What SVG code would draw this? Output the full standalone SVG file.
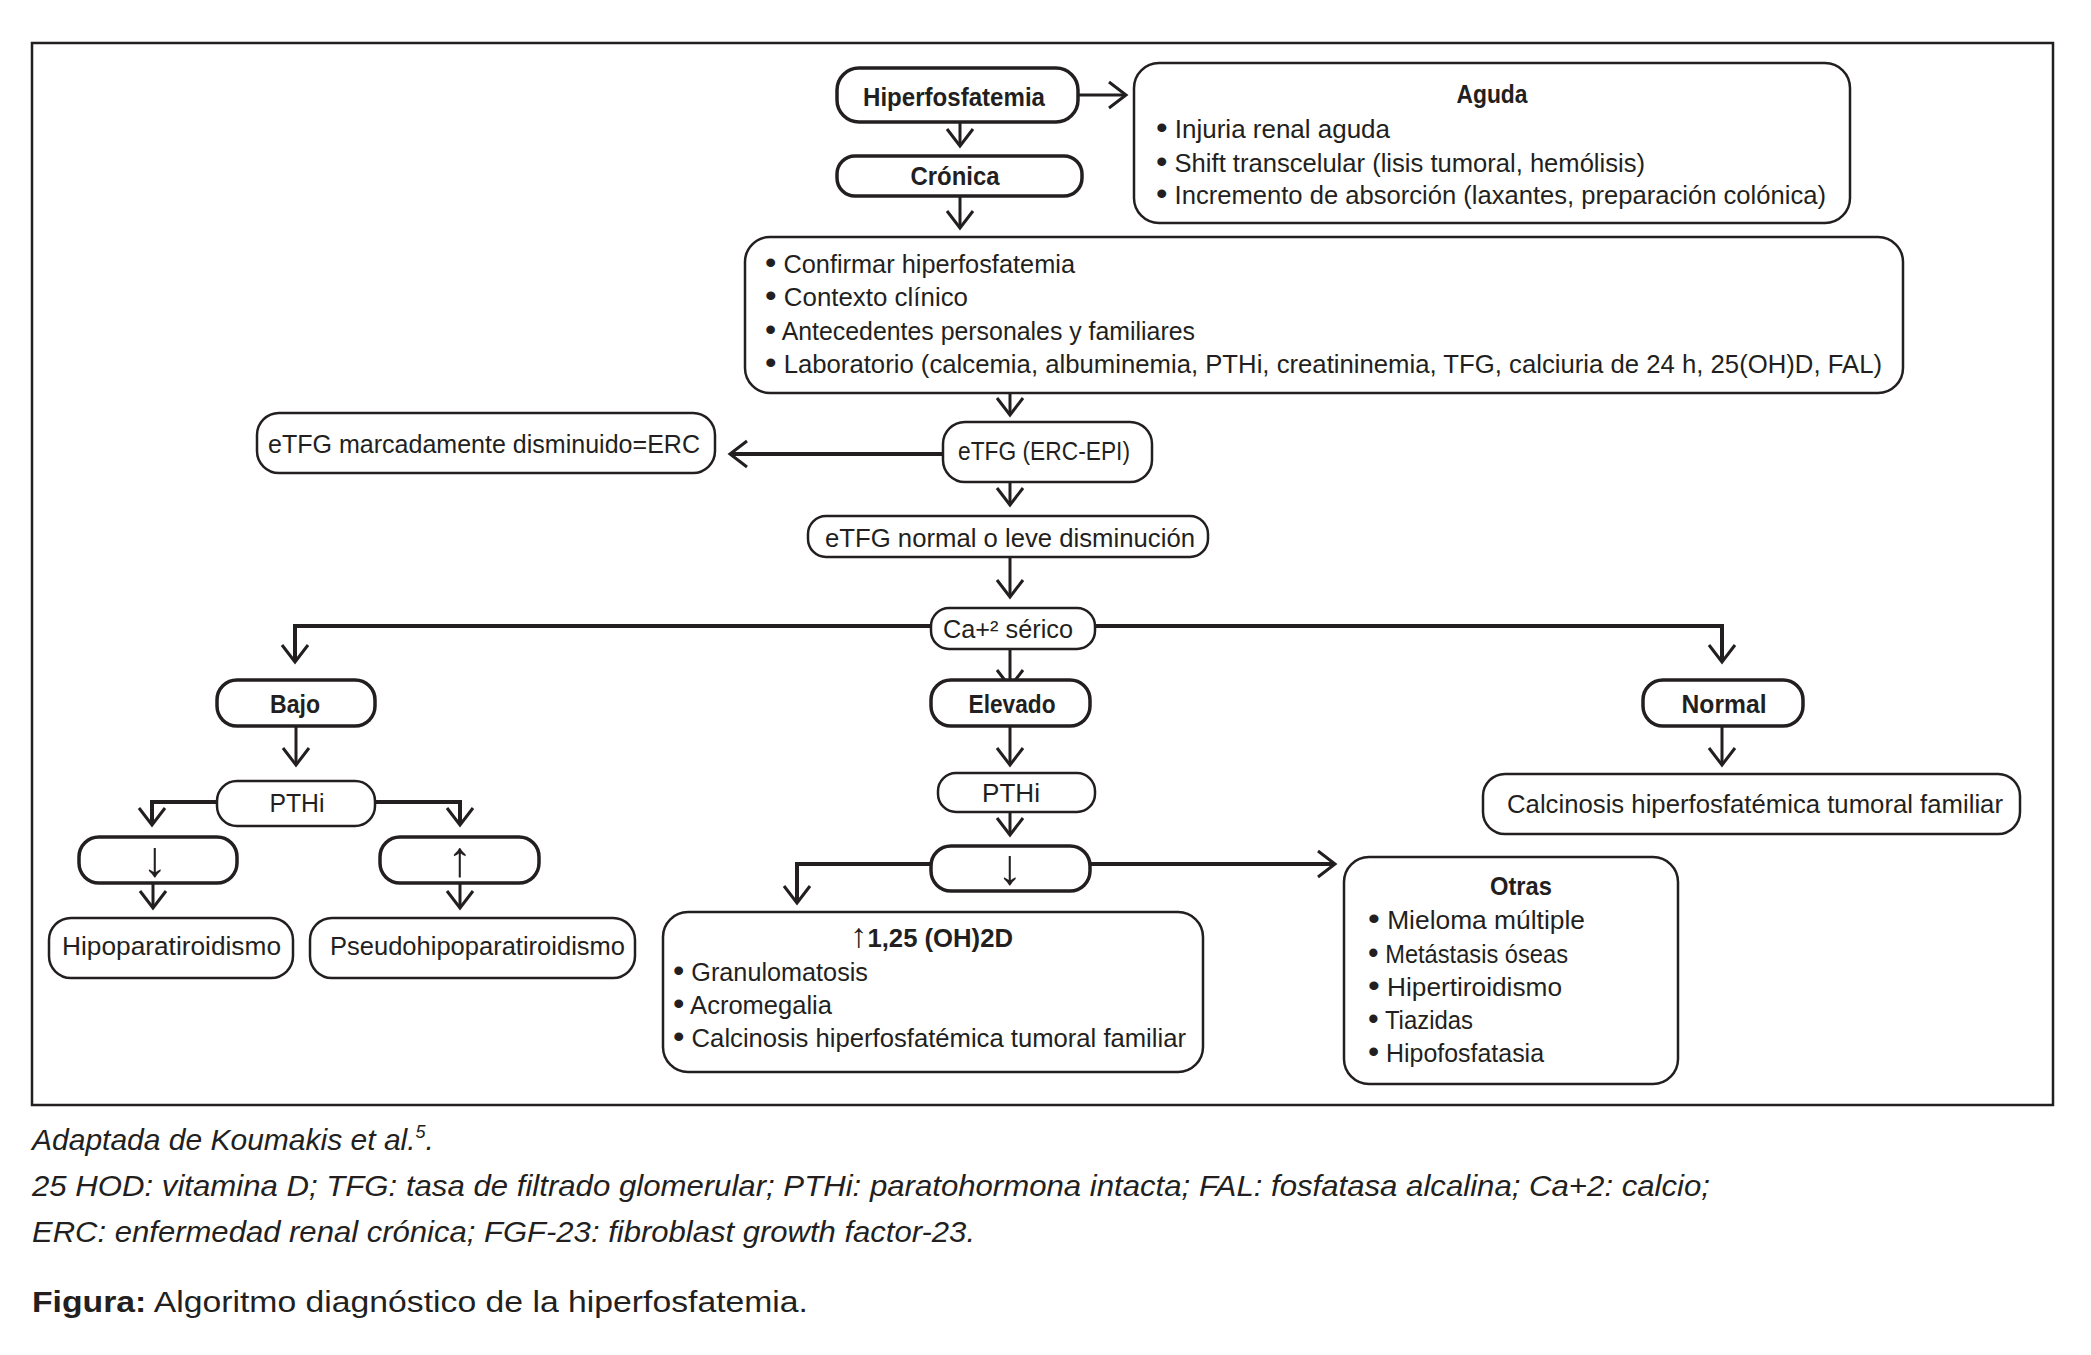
<svg xmlns="http://www.w3.org/2000/svg" width="2091" height="1355" viewBox="0 0 2091 1355">
<style>
.box{fill:#fff;stroke:#231f20;stroke-width:2.5}
.bx{stroke-width:3.5}
.t{font-family:"Liberation Sans",Arial,sans-serif;font-size:25px;fill:#231f20}
.b{font-weight:bold}
.c{text-anchor:middle}
.ar{font-size:50px}
.bu{font-size:32px}
.conn{fill:none;stroke:#231f20;stroke-width:3;marker-end:url(#arr)}
.thick{stroke-width:4}
.f{font-family:"Liberation Sans",Arial,sans-serif;font-size:30px;fill:#231f20}
.i{font-style:italic}
</style>
<defs>
<marker id="arr" markerUnits="userSpaceOnUse" markerWidth="40" markerHeight="40" viewBox="-20 -20 40 40" refX="0" refY="0" orient="auto" overflow="visible">
<path d="M-17,-13 L0,0 L-17,13" fill="none" stroke="#231f20" stroke-width="3"/>
</marker>
</defs>
<rect x="0" y="0" width="2091" height="1355" fill="#fff"/>
<rect x="32" y="43" width="2021" height="1062" fill="none" stroke="#231f20" stroke-width="2.5"/>

<g id="connectors">
<path class="conn" d="M960,122 V146"/>
<path class="conn" d="M1078,95 H1126"/>
<path class="conn" d="M960,196 V228"/>
<path class="conn" d="M1010,393 V415"/>
<path class="conn thick" d="M943,454 H730"/>
<path class="conn" d="M1010,482 V505"/>
<path class="conn" d="M1010,557 V597"/>
<path class="conn thick" d="M931,626 H295 V662"/>
<path class="conn thick" d="M1095,626 H1722 V662"/>
<path class="conn" d="M1010,649 V687"/>
<path class="conn" d="M296,726 V765"/>
<path class="conn thick" d="M217,802 H152 V825"/>
<path class="conn thick" d="M375,802 H460 V825"/>
<path class="conn" d="M153,883 V908"/>
<path class="conn" d="M460,883 V908"/>
<path class="conn" d="M1010,726 V765"/>
<path class="conn" d="M1010,812 V835"/>
<path class="conn thick" d="M931,864 H797 V903"/>
<path class="conn thick" d="M1090,864 H1335"/>
<path class="conn" d="M1722,726 V765"/>
</g>

<g id="hiperfosfatemia">
<rect class="box bx" x="837" y="68" width="241" height="54" rx="22"/>
<text class="t b c" x="954" y="106" textLength="182" lengthAdjust="spacingAndGlyphs">Hiperfosfatemia</text>
</g>
<g id="cronica">
<rect class="box bx" x="837" y="156" width="245" height="40" rx="18"/>
<text class="t b c" x="955" y="185" textLength="89" lengthAdjust="spacingAndGlyphs">Crónica</text>
</g>
<g id="aguda">
<rect class="box" x="1134" y="63" width="716" height="160" rx="25"/>
<text class="t b c" x="1492" y="103" textLength="71" lengthAdjust="spacingAndGlyphs">Aguda</text>
<text class="t" x="1156" y="138" textLength="234" lengthAdjust="spacingAndGlyphs"><tspan class="bu">•</tspan> Injuria renal aguda</text>
<text class="t" x="1156" y="172" textLength="489" lengthAdjust="spacingAndGlyphs"><tspan class="bu">•</tspan> Shift transcelular (lisis tumoral, hemólisis)</text>
<text class="t" x="1156" y="204" textLength="670" lengthAdjust="spacingAndGlyphs"><tspan class="bu">•</tspan> Incremento de absorción (laxantes, preparación colónica)</text>
</g>
<g id="evaluacion">
<rect class="box" x="745" y="237" width="1158" height="156" rx="25"/>
<text class="t" x="765" y="273" textLength="310" lengthAdjust="spacingAndGlyphs"><tspan class="bu">•</tspan> Confirmar hiperfosfatemia</text>
<text class="t" x="765" y="306" textLength="203" lengthAdjust="spacingAndGlyphs"><tspan class="bu">•</tspan> Contexto clínico</text>
<text class="t" x="765" y="340" textLength="430" lengthAdjust="spacingAndGlyphs"><tspan class="bu">•</tspan> Antecedentes personales y familiares</text>
<text class="t" x="765" y="373" textLength="1117" lengthAdjust="spacingAndGlyphs"><tspan class="bu">•</tspan> Laboratorio (calcemia, albuminemia, PTHi, creatininemia, TFG, calciuria de 24 h, 25(OH)D, FAL)</text>
</g>
<g id="etfg">
<rect class="box" x="943" y="422" width="209" height="60" rx="22"/>
<text class="t" x="958" y="460" textLength="172" lengthAdjust="spacingAndGlyphs">eTFG (ERC-EPI)</text>
</g>
<g id="etfg-erc">
<rect class="box" x="257" y="413" width="458" height="60" rx="22"/>
<text class="t" x="268" y="453" textLength="432" lengthAdjust="spacingAndGlyphs">eTFG marcadamente disminuido=ERC</text>
</g>
<g id="etfg-normal">
<rect class="box" x="808" y="516" width="400" height="41" rx="18"/>
<text class="t" x="825" y="547" textLength="370" lengthAdjust="spacingAndGlyphs">eTFG normal o leve disminución</text>
</g>
<g id="ca-serico">
<rect class="box" x="931" y="608" width="164" height="41" rx="18"/>
<text class="t" x="943" y="638" textLength="130" lengthAdjust="spacingAndGlyphs">Ca+² sérico</text>
</g>
<g id="bajo">
<rect class="box bx" x="217" y="680" width="158" height="46" rx="20"/>
<text class="t b c" x="295" y="713" textLength="50" lengthAdjust="spacingAndGlyphs">Bajo</text>
</g>
<g id="elevado">
<rect class="box bx" x="931" y="680" width="159" height="46" rx="20"/>
<text class="t b c" x="1012" y="713" textLength="87" lengthAdjust="spacingAndGlyphs">Elevado</text>
</g>
<g id="normal">
<rect class="box bx" x="1643" y="680" width="160" height="46" rx="20"/>
<text class="t b c" x="1724" y="713" textLength="85" lengthAdjust="spacingAndGlyphs">Normal</text>
</g>
<g id="pthi-bajo">
<rect class="box" x="217" y="781" width="158" height="45" rx="20"/>
<text class="t c" x="297" y="812" textLength="55" lengthAdjust="spacingAndGlyphs">PTHi</text>
</g>
<g id="pthi-baja">
<rect class="box bx" x="79" y="837" width="158" height="46" rx="20"/>
<text class="t c ar" x="155" y="876">↓</text>
</g>
<g id="pthi-alta">
<rect class="box bx" x="380" y="837" width="159" height="46" rx="20"/>
<text class="t c ar" x="460" y="876">↑</text>
</g>
<g id="hipoparatiroidismo">
<rect class="box" x="49" y="918" width="244" height="60" rx="22"/>
<text class="t" x="62" y="955" textLength="219" lengthAdjust="spacingAndGlyphs">Hipoparatiroidismo</text>
</g>
<g id="pseudohipoparatiroidismo">
<rect class="box" x="310" y="918" width="325" height="60" rx="22"/>
<text class="t" x="330" y="955" textLength="295" lengthAdjust="spacingAndGlyphs">Pseudohipoparatiroidismo</text>
</g>
<g id="pthi-elevado">
<rect class="box" x="938" y="773" width="157" height="39" rx="18"/>
<text class="t c" x="1011" y="802" textLength="58" lengthAdjust="spacingAndGlyphs">PTHi</text>
</g>
<g id="pthi-elevado-baja">
<rect class="box bx" x="931" y="846" width="159" height="45" rx="20"/>
<text class="t c ar" x="1010" y="884">↓</text>
</g>
<g id="vitd">
<rect class="box" x="663" y="912" width="540" height="160" rx="25"/>
<text class="t b" x="850" y="947" textLength="163" lengthAdjust="spacingAndGlyphs"><tspan font-weight="normal" font-size="34">↑</tspan>1,25 (OH)2D</text>
<text class="t" x="673" y="981" textLength="195" lengthAdjust="spacingAndGlyphs"><tspan class="bu">•</tspan> Granulomatosis</text>
<text class="t" x="673" y="1014" textLength="159" lengthAdjust="spacingAndGlyphs"><tspan class="bu">•</tspan> Acromegalia</text>
<text class="t" x="673" y="1047" textLength="513" lengthAdjust="spacingAndGlyphs"><tspan class="bu">•</tspan> Calcinosis hiperfosfatémica tumoral familiar</text>
</g>
<g id="otras">
<rect class="box" x="1344" y="857" width="334" height="227" rx="25"/>
<text class="t b c" x="1521" y="895" textLength="62" lengthAdjust="spacingAndGlyphs">Otras</text>
<text class="t" x="1368" y="929" textLength="217" lengthAdjust="spacingAndGlyphs"><tspan class="bu">•</tspan> Mieloma múltiple</text>
<text class="t" x="1368" y="963" textLength="200" lengthAdjust="spacingAndGlyphs"><tspan class="bu">•</tspan> Metástasis óseas</text>
<text class="t" x="1368" y="996" textLength="194" lengthAdjust="spacingAndGlyphs"><tspan class="bu">•</tspan> Hipertiroidismo</text>
<text class="t" x="1368" y="1029" textLength="105" lengthAdjust="spacingAndGlyphs"><tspan class="bu">•</tspan> Tiazidas</text>
<text class="t" x="1368" y="1062" textLength="176" lengthAdjust="spacingAndGlyphs"><tspan class="bu">•</tspan> Hipofosfatasia</text>
</g>
<g id="calcinosis">
<rect class="box" x="1483" y="774" width="537" height="60" rx="22"/>
<text class="t" x="1507" y="813" textLength="496" lengthAdjust="spacingAndGlyphs">Calcinosis hiperfosfatémica tumoral familiar</text>
</g>

<g id="caption">
<text class="f i" x="32" y="1150">Adaptada de Koumakis et al.<tspan font-size="18" dy="-12">5</tspan><tspan dy="12">.</tspan></text>
<text class="f i" x="32" y="1196" textLength="1678" lengthAdjust="spacingAndGlyphs">25 HOD: vitamina D; TFG: tasa de filtrado glomerular; PTHi: paratohormona intacta; FAL: fosfatasa alcalina; Ca+2: calcio;</text>
<text class="f i" x="32" y="1242" textLength="943" lengthAdjust="spacingAndGlyphs">ERC: enfermedad renal crónica; FGF-23: fibroblast growth factor-23.</text>
<text class="f" x="32" y="1312" textLength="776" lengthAdjust="spacingAndGlyphs"><tspan font-weight="bold">Figura:</tspan> Algoritmo diagnóstico de la hiperfosfatemia.</text>
</g>
</svg>
